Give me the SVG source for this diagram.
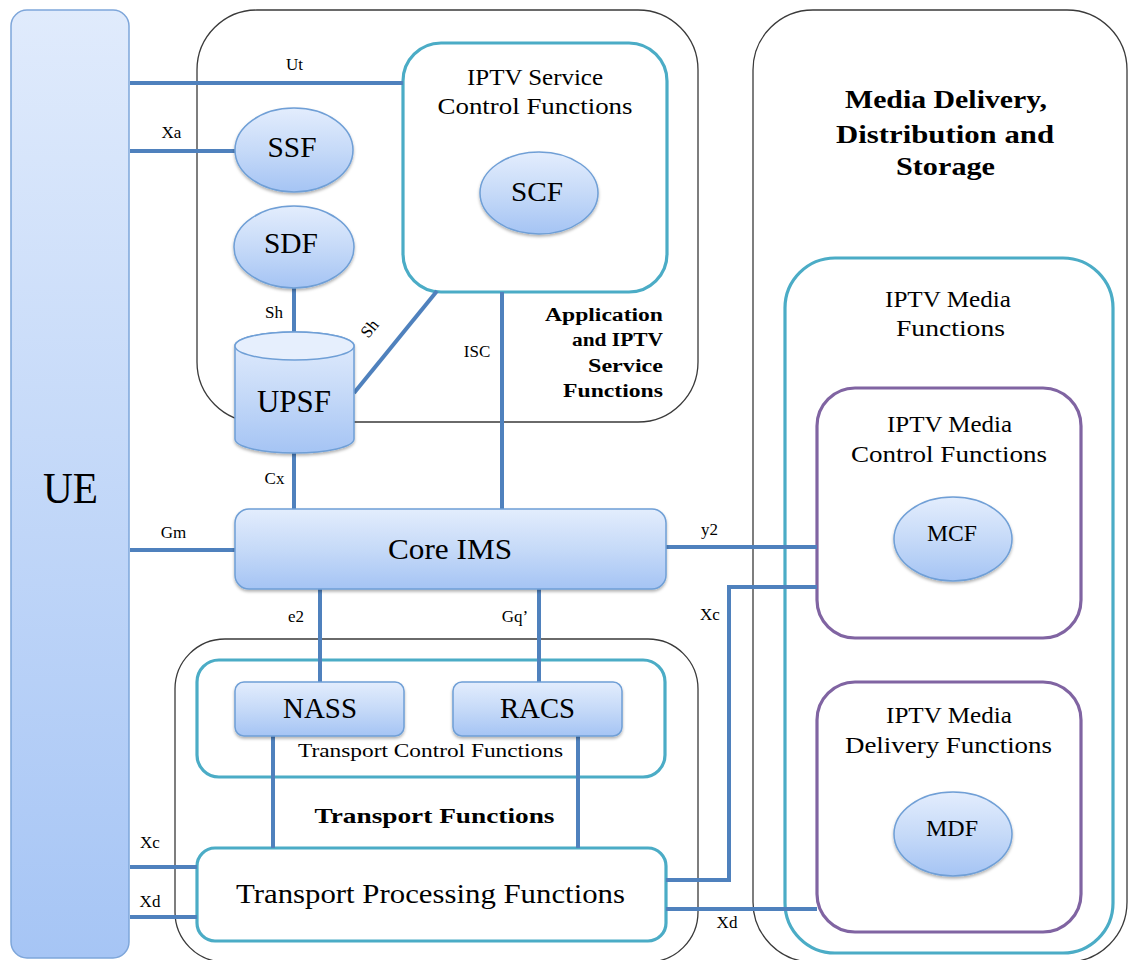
<svg xmlns="http://www.w3.org/2000/svg" width="1128" height="960" viewBox="0 0 1128 960">
<defs>
<linearGradient id="g" x1="0" y1="0" x2="0" y2="1">
<stop offset="0" stop-color="#e3edfd"/>
<stop offset="0.5" stop-color="#c6daf8"/>
<stop offset="1" stop-color="#a5c4f4"/>
</linearGradient>
<linearGradient id="gu" x1="0" y1="0" x2="0" y2="1">
<stop offset="0" stop-color="#e0ebfc"/>
<stop offset="1" stop-color="#a6c5f5"/>
</linearGradient>
<filter id="sh" x="-10%" y="-10%" width="120%" height="130%">
<feDropShadow dx="0" dy="2" stdDeviation="1.5" flood-color="#000" flood-opacity="0.3"/>
</filter>
<style>
.box{fill:none;stroke:#3a3a3a;stroke-width:1.3}
.teal{fill:none;stroke:#4bacc6;stroke-width:3.2}
.purp{fill:none;stroke:#8064a2;stroke-width:3.2}
.node{fill:url(#g);stroke:#6f9fd6;stroke-width:1.5;filter:url(#sh)}
.con{fill:none;stroke:#4f81bd;stroke-width:4}
text{font-family:"Liberation Serif","Times New Roman",serif;fill:#000;text-anchor:middle}
.lbl{font-size:17px}
.b{font-weight:bold}
</style>
</defs>
<rect width="1128" height="960" fill="#fff"/>

<g id="app-iptv-service-functions">
<rect class="box" x="197" y="10" width="501" height="412" rx="60"/>
<text class="b" x="663" y="321" font-size="18.5" text-anchor="end" style="text-anchor:end" textLength="118" lengthAdjust="spacingAndGlyphs">Application</text>
<text class="b" x="663" y="346" font-size="18.5" style="text-anchor:end" textLength="91" lengthAdjust="spacingAndGlyphs">and IPTV</text>
<text class="b" x="663" y="372" font-size="18.5" style="text-anchor:end" textLength="75" lengthAdjust="spacingAndGlyphs">Service</text>
<text class="b" x="663" y="397" font-size="18.5" style="text-anchor:end" textLength="100" lengthAdjust="spacingAndGlyphs">Functions</text>
</g>

<g id="iptv-service-control">
<rect class="teal" x="403" y="43" width="264" height="249" rx="38"/>
<text x="535" y="85" font-size="24" textLength="136" lengthAdjust="spacingAndGlyphs">IPTV Service</text>
<text x="535" y="114" font-size="24" textLength="195" lengthAdjust="spacingAndGlyphs">Control Functions</text>
</g>

<g id="media-delivery">
<rect class="box" x="753" y="10" width="374" height="952" rx="60"/>
<text class="b" x="946" y="108" font-size="25" textLength="202" lengthAdjust="spacingAndGlyphs">Media Delivery,</text>
<text class="b" x="945" y="143" font-size="25" textLength="218" lengthAdjust="spacingAndGlyphs">Distribution and</text>
<text class="b" x="945.5" y="175" font-size="25" textLength="99" lengthAdjust="spacingAndGlyphs">Storage</text>
</g>

<g id="iptv-media-functions">
<rect class="teal" x="785" y="258" width="328" height="695" rx="50"/>
<text x="948" y="307" font-size="24" textLength="126" lengthAdjust="spacingAndGlyphs">IPTV Media</text>
<text x="950.5" y="336" font-size="24" textLength="109" lengthAdjust="spacingAndGlyphs">Functions</text>
</g>

<g id="iptv-media-control">
<rect class="purp" x="817" y="388" width="264" height="250" rx="38"/>
<text x="949.5" y="432" font-size="24" textLength="125" lengthAdjust="spacingAndGlyphs">IPTV Media</text>
<text x="949" y="462" font-size="24" textLength="196" lengthAdjust="spacingAndGlyphs">Control Functions</text>
</g>

<g id="iptv-media-delivery">
<rect class="purp" x="817" y="682" width="264" height="250" rx="38"/>
<text x="949" y="723" font-size="24" textLength="126" lengthAdjust="spacingAndGlyphs">IPTV Media</text>
<text x="948.5" y="753" font-size="24" textLength="207" lengthAdjust="spacingAndGlyphs">Delivery Functions</text>
</g>

<g id="transport-functions">
<rect class="box" x="175" y="639" width="523" height="323" rx="50"/>
<text class="b" x="434.5" y="823" font-size="22" textLength="240" lengthAdjust="spacingAndGlyphs">Transport Functions</text>
</g>

<g id="transport-control">
<rect class="teal" x="197" y="660" width="468" height="117" rx="22"/>
<text x="430.5" y="757" font-size="18" textLength="265" lengthAdjust="spacingAndGlyphs">Transport Control Functions</text>
</g>

<g id="transport-processing">
<rect class="teal" x="197" y="848" width="469" height="93" rx="18" style="fill:#fff"/>
<text x="430.5" y="903" font-size="27" textLength="389" lengthAdjust="spacingAndGlyphs">Transport Processing Functions</text>
</g>

<g id="connectors">
<path class="con" d="M130,83 H403"/>
<path class="con" d="M130,151 H235"/>
<path class="con" d="M294,288 V332"/>
<path class="con" d="M354,393 L437,291"/>
<path class="con" d="M502,292 V509"/>
<path class="con" d="M294,453 V509"/>
<path class="con" d="M130,550 H235"/>
<path class="con" d="M666,547 H817"/>
<path class="con" d="M320,589 V682"/>
<path class="con" d="M539,589 V682"/>
<path class="con" d="M273,736 V848"/>
<path class="con" d="M578,736 V848"/>
<path class="con" d="M130,867 H197"/>
<path class="con" d="M130,917 H197"/>
<path class="con" d="M666,880 H729 V587 H817"/>
<path class="con" d="M666,909 H817"/>
<text class="lbl" x="294.5" y="70">Ut</text>
<text class="lbl" x="171.5" y="138">Xa</text>
<text class="lbl" x="274" y="318">Sh</text>
<text class="lbl" transform="translate(374,332) rotate(-51)">Sh</text>
<text class="lbl" x="477" y="357">ISC</text>
<text class="lbl" x="274.5" y="484">Cx</text>
<text class="lbl" x="173.5" y="538">Gm</text>
<text class="lbl" x="709.5" y="535">y2</text>
<text class="lbl" x="296" y="622">e2</text>
<text class="lbl" x="515" y="622">Gq’</text>
<text class="lbl" x="710" y="620">Xc</text>
<text class="lbl" x="727" y="928">Xd</text>
<text class="lbl" x="150" y="848">Xc</text>
<text class="lbl" x="150" y="907">Xd</text>
</g>

<g id="UE">
<rect x="11" y="10" width="118" height="948" rx="16" fill="url(#gu)" stroke="#7ea6da" stroke-width="1.5"/>
<text x="70.5" y="503" font-size="45" textLength="55" lengthAdjust="spacingAndGlyphs">UE</text>
</g>

<g id="SSF">
<ellipse class="node" cx="294" cy="150" rx="59" ry="42"/>
<text x="292" y="157" font-size="30" textLength="49" lengthAdjust="spacingAndGlyphs">SSF</text>
</g>

<g id="SDF">
<ellipse class="node" cx="294" cy="247" rx="60" ry="41"/>
<text x="291" y="253" font-size="30" textLength="54" lengthAdjust="spacingAndGlyphs">SDF</text>
</g>

<g id="SCF">
<ellipse class="node" cx="539" cy="193" rx="59" ry="41"/>
<text x="537" y="201" font-size="28" textLength="52" lengthAdjust="spacingAndGlyphs">SCF</text>
</g>

<g id="UPSF">
<path class="node" d="M235,346 A59.5,14 0 0 1 354,346 V439 A59.5,14 0 0 1 235,439 Z"/>
<ellipse cx="294.5" cy="346" rx="59.5" ry="14" fill="#e6effd" stroke="#6f9fd6" stroke-width="1.5"/>
<text x="294" y="412" font-size="31" textLength="74" lengthAdjust="spacingAndGlyphs">UPSF</text>
</g>

<g id="CoreIMS">
<rect class="node" x="235" y="509" width="431" height="80" rx="14"/>
<text x="450" y="559" font-size="30" textLength="124" lengthAdjust="spacingAndGlyphs">Core IMS</text>
</g>

<g id="NASS">
<rect class="node" x="235" y="682" width="169" height="54" rx="9"/>
<text x="320" y="718" font-size="29" textLength="74" lengthAdjust="spacingAndGlyphs">NASS</text>
</g>

<g id="RACS">
<rect class="node" x="453" y="682" width="169" height="54" rx="9"/>
<text x="537.5" y="718" font-size="29" textLength="75" lengthAdjust="spacingAndGlyphs">RACS</text>
</g>

<g id="MCF">
<ellipse class="node" cx="953" cy="539" rx="59" ry="42"/>
<text x="952" y="541" font-size="24" textLength="50" lengthAdjust="spacingAndGlyphs">MCF</text>
</g>

<g id="MDF">
<ellipse class="node" cx="953" cy="834" rx="59" ry="42"/>
<text x="952" y="836" font-size="24" textLength="52" lengthAdjust="spacingAndGlyphs">MDF</text>
</g>
</svg>
